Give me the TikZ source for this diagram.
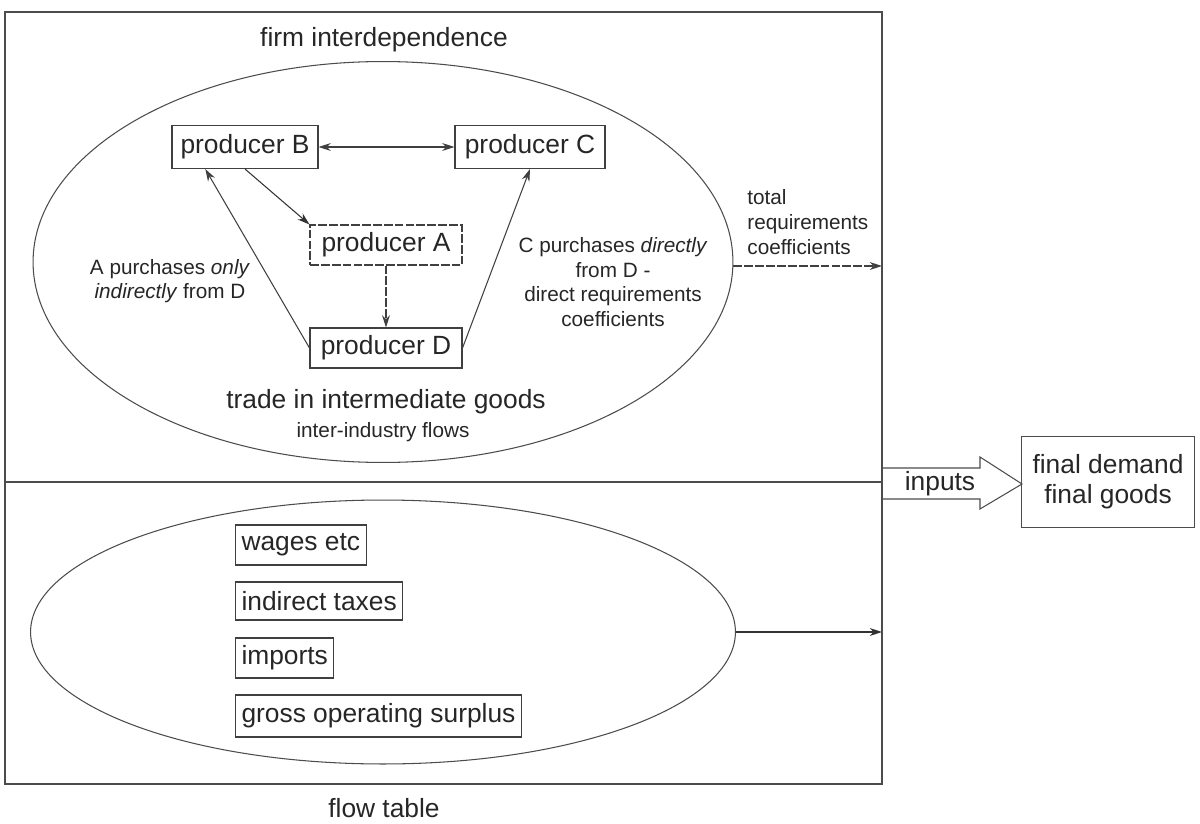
\documentclass[tikz,border=0pt]{standalone}
\usepackage{fontspec}
\setmainfont{Liberation Sans}
\usetikzlibrary{arrows.meta,shapes.geometric,calc}
\begin{document}
\begin{tikzpicture}[x=0.02cm,y=-0.02cm,
  line width=0.6pt,
  every node/.style={text=black!85},
  big/.style={font=\fontsize{15}{17}\selectfont},
  small/.style={font=\fontsize{11.8}{14}\selectfont},
  pbox/.style={draw=black!75,big,inner sep=0pt,minimum width=2.98cm,minimum height=0.82cm},
  fbox/.style={draw=black!75,big,anchor=west,inner xsep=3.4pt,inner ysep=0pt,minimum height=0.78cm},
  oval/.style={draw=black!70,ellipse,inner sep=0pt},
  tip/.style={-{Stealth[length=7pt,width=4.5pt]}},
  dtip/.style={{Stealth[length=7pt,width=4.5pt]}-{Stealth[length=7pt,width=4.5pt]}},
  ddash/.style={dash pattern=on 5pt off 1.2pt}
]
\useasboundingbox (0,0) rectangle (1200,824);
% frame
\draw[black!70] (5,12) rectangle (882,784);
\draw[black!70] (5,482) -- (882,482);
% ellipses
\node[oval,minimum width=14cm,minimum height=8.02cm] (top) at (383,262) {};
\node[oval,minimum width=14.1cm,minimum height=5.28cm] (bot) at (383,632) {};
% titles
\node[big] (t1) at (384,40) {firm interdependence};
\node[big] (t2) at (386,402) {trade in intermediate goods};
\node[small] (t3) at (383,432) {inter-industry flows};
\node[big] (t4) at (384,808) {flow table};
% producers
\node[pbox,minimum width=2.92cm,minimum height=0.86cm] (B) at (245,147) {producer B};
\node[pbox,minimum width=3.0cm,minimum height=0.86cm] (C) at (530,147) {producer C};
\node[pbox,ddash,minimum width=3.04cm,minimum height=0.8cm] (A) at (386,245) {producer A};
\node[pbox,minimum width=3.04cm,minimum height=0.8cm] (D) at (386,348) {producer D};
% connectors
\draw[dtip,black!75] (B.east) -- (C.west);
\draw[tip,black!80] (B.south) -- (A.north west);
\draw[tip,black!75,ddash] (A.south) -- (D.north);
\draw[tip,black!75] (D.west) -- ($(B.south west)!0.23!(B.south east)$);
\draw[tip,black!75] (D.east) -- (C.south);
% labels
\node[small,align=center] (la) at (170,281) {A purchases \textit{only}\\\textit{indirectly} from D};
\node[small,align=center] (lc) at (613,282) {C purchases \textit{directly}\\from D -\\direct requirements\\coefficients};
\node[small,align=left,anchor=west] (lt) at (741,222) {total\\requirements\\coefficients};
% total requirements arrow
\coordinate (trE) at (882,266);
\draw[tip,black!75,ddash] (top.east |- trE) -- (trE);
% bottom boxes
\node[fbox,minimum height=0.8cm] (w) at (235,545) {wages etc};
\node[fbox,minimum height=0.76cm] (it) at (235,601) {indirect taxes};
\node[fbox,minimum height=0.8cm] (im) at (235,658) {imports};
\node[fbox,minimum height=0.84cm] (g) at (235,716) {gross operating surplus};
\coordinate (bE) at (882,632);
\draw[tip,black!80] (bot.east) -- (bE);
% inputs arrow
\draw[black!70] (882,468) -- (980,468) -- (980,457) -- (1022,484) -- (980,509) -- (980,499) -- (882,499);
\node[big] (inp) at (940,484) {inputs};
% final demand
\node[draw=black!70,big,align=center,minimum width=3.46cm,minimum height=1.82cm,inner sep=0pt] (fd) at (1108,482) {final demand\\final goods};
\end{tikzpicture}
\end{document}
